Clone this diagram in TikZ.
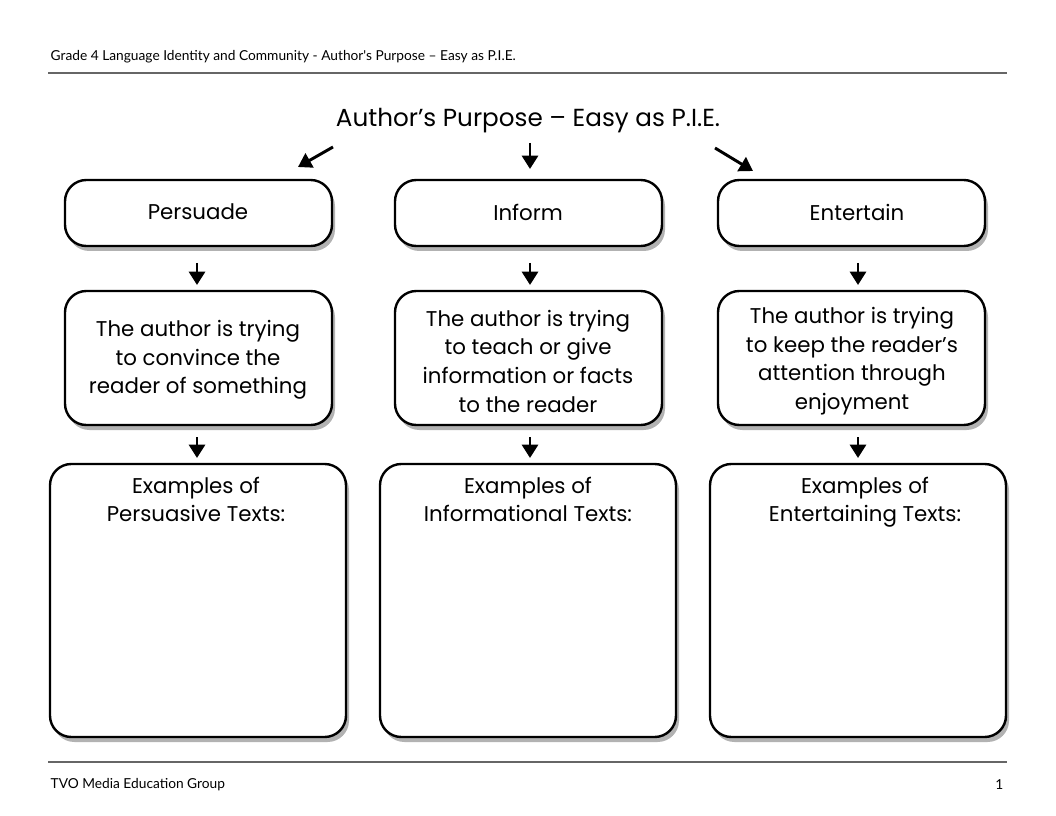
\documentclass[tikz,border=0pt]{standalone}
\usetikzlibrary{arrows.meta}
\usepackage{fontspec}
\setmainfont{Poppins}
\newfontfamily\hdr{Lato}
\begin{document}
\begin{tikzpicture}[x=0.75pt,y=-0.75pt,
 box/.style={draw,line width=1.8pt,rounded corners=16pt,fill=white},
 shad/.style={fill=black!30,rounded corners=16pt},
 arr/.style={line width=2.2pt,-{Triangle[length=10pt,width=12pt]}},
 txt/.style={font=\fontsize{16}{21.5}\selectfont,align=center}]
\useasboundingbox (0,0) rectangle (1056,816);
\node[anchor=west,font=\hdr\fontsize{10.3}{12}\selectfont] (hd) at (46,57) {Grade 4 Language Identity and Community - Author's Purpose – Easy as P.I.E.};
\draw[black!60,line width=0.8pt] (48,73) coordinate (h1) -- (1007,73) coordinate (h2);
\draw[black!60,line width=0.8pt] (48,762) coordinate (f1) -- (1007,762) coordinate (f2);
\node[anchor=west,font=\hdr\fontsize{10.3}{12}\selectfont] (ft) at (46,785) {TVO Media Education Group};
\node[anchor=east,font=\hdr\fontsize{10.3}{12}\selectfont] (pg) at (1008,785) {1};
\node[font=\fontsize{18.5}{22}\selectfont] (title) at (528,121) {Author's Purpose – Easy as P.I.E.};
\foreach \n/\xa/\xb/\ya/\yb in {a/65/332/180/246,b/395/662/180/246,c/718/985/180/246,
  d/65/332/291/425,e/395/662/291/425,f/718/985/291/425,
  g/50/346/464/737,h/380/676/464/737,i/710/1006/464/737}{
  \fill[shad] (\xa+3,\ya+5) rectangle (\xb+3,\yb+5);
  \draw[box] (\xa,\ya) rectangle (\xb,\yb);
  \coordinate (\n) at ({(\xa+\xb)/2},{(\ya+\yb)/2});
}
\node[txt] at (198,212) {Persuade};
\node[txt] at (528,212) {Inform};
\node[txt] at (857,212) {Entertain};
\node[txt] at (198,360) {The author is trying\\to convince the\\reader of something};
\node[txt] at (528,361) {The author is trying\\to teach or give\\information or facts\\to the reader};
\node[txt] at (852,361) {The author is trying\\to keep the reader's\\attention through\\enjoyment};
\node[txt,anchor=north] at (196,472) {Examples of\\Persuasive Texts:};
\node[txt,anchor=north] at (528,472) {Examples of\\Informational Texts:};
\node[txt,anchor=north] at (865,472) {Examples of\\Entertaining Texts:};
\draw[arr] (333,147) -- (298,167);
\draw[arr] (530,143) -- (530,169);
\draw[arr] (715,148) -- (753,171);
\foreach \x in {197,530,858}{
  \draw[arr] (\x,263) -- (\x,285);
  \draw[arr] (\x,437) -- (\x,458);
}
\end{tikzpicture}
\end{document}
